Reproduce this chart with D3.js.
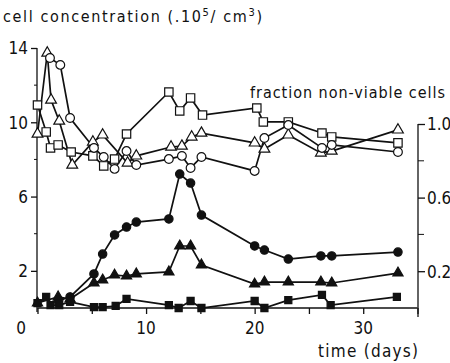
<!DOCTYPE html>
<html>
<head>
<meta charset="utf-8">
<script src="https://cdnjs.cloudflare.com/ajax/libs/d3/7.8.5/d3.min.js"></script>
<style>
  body { margin: 0; background: #fff; }
  svg text { font-family: "DejaVu Sans Condensed", "DejaVu Sans", sans-serif; fill: #111; }
</style>
</head>
<body>
<svg width="450" height="363"></svg>
<script>
// open symbols: cell concentration (left axis, .10^5/cm3)
let quadrado_aberto = [
  [0, 10.93], [0.8, 9.48], [1.2, 8.62], [1.9, 8.78], [3.1, 8.40], [5.1, 8.19], [6.1, 7.65],
  [7.1, 8.02], [8.2, 9.37], [12.1, 11.63], [13.1, 10.61], [14.1, 11.31], [15.2, 10.39],
  [20.2, 10.77], [20.8, 10.02], [23.1, 10.02], [26.2, 9.42], [27.1, 9.21], [33.2, 8.89]
];
let triangulo_aberto = [
  [0, 9.37], [0.9, 13.73], [1.25, 11.2], [2.0, 10.07], [3.2, 7.7], [5.1, 8.94], [6.0, 9.32],
  [8.3, 7.81], [9.1, 8.19], [12.3, 8.67], [13.3, 8.72], [14.2, 9.21], [15.1, 9.42],
  [20.0, 8.89], [20.9, 8.56], [23.1, 9.32], [26.1, 8.35], [27.1, 8.45], [33.2, 9.59]
];
let circulo_aberto = [
  [1.15, 13.46], [2.1, 13.09], [3.0, 10.23], [5.2, 8.62], [6.1, 8.13], [7.1, 7.49], [8.2, 8.45],
  [9.1, 7.70], [12.1, 8.02], [13.3, 8.19], [14.1, 7.54], [15.1, 8.13], [20.0, 7.38],
  [20.9, 9.15], [23.1, 9.85], [26.2, 8.62], [27.1, 8.78], [33.2, 8.40]
];

// filled symbols: fraction non-viable cells (right axis)
let circulo_cheio = [
  [1.9, 0.04], [3.0, 0.06], [5.2, 0.185], [6.0, 0.293], [7.1, 0.397], [8.2, 0.44], [9.1, 0.467],
  [12.1, 0.484], [13.1, 0.728], [14.1, 0.679], [15.1, 0.505], [20.0, 0.337], [20.9, 0.315],
  [23.1, 0.266], [26.1, 0.283], [27.1, 0.283], [33.2, 0.304]
];
let triangulo_cheio = [
  [0, 0.027], [1.9, 0.06], [3.0, 0.049], [5.2, 0.136], [6.0, 0.152], [7.1, 0.179], [8.2, 0.174],
  [9.1, 0.185], [12.1, 0.196], [13.1, 0.337], [14.1, 0.337], [15.1, 0.234], [20.0, 0.13],
  [20.9, 0.141], [23.1, 0.141], [26.1, 0.141], [27.1, 0.136], [33.2, 0.19]
];
let quadrado_cheio = [
  [0, 0.027], [0.8, 0.06], [1.2, 0.016], [2.0, 0.016], [3.0, 0.033], [5.2, 0.005], [6.0, 0.005],
  [7.2, 0.011], [8.2, 0.049], [12.1, 0.016], [13.0, 0.0], [14.1, 0.038], [15.1, 0.0],
  [20.0, 0.038], [20.9, 0.0], [23.1, 0.043], [26.2, 0.071], [27.0, 0.016], [33.1, 0.06]
];

let ticks_x = [0, 10, 20, 30];
let ticks_x_menores = [5, 15, 25, 35];
let ticks_esq = [2, 6, 10, 14];
let ticks_esq_menores = [4, 8, 12];
let ticks_dir = [0.2, 0.6, 1.0];
let ticks_dir_menores = [0.4, 0.8];

let $svg = d3.select("svg");

let x = d3.scaleLinear().domain([0, 35]).range([37.5, 417.5]);
let y_esq = d3.scaleLinear().domain([0, 14]).range([308, 48]);
let y_dir = d3.scaleLinear().domain([0, 1]).range([308, 124]);

// axes
let g_x = $svg.append("g").attr("transform", "translate(0,308)");
g_x.call(d3.axisBottom(x).tickValues(ticks_x.concat(ticks_x_menores)).tickSize(6).tickFormat(""));
g_x.select(".domain").attr("d", "M" + x(0) + ",0H" + x(35));
g_x.selectAll(".tick text").remove();
ticks_x.forEach(function(t) {
  $svg.append("text")
    .attr("x", t === 0 ? 21 : x(t))
    .attr("y", 334)
    .attr("text-anchor", "middle")
    .attr("font-size", 17)
    .text(t);
});

let g_esq = $svg.append("g").attr("transform", "translate(37,0)");
g_esq.call(d3.axisLeft(y_esq).tickValues(ticks_esq).tickSize(6).tickFormat(d3.format("d")));
g_esq.select(".domain").attr("d", "M0," + y_esq(14) + "V" + 312);
g_esq.selectAll(".tick text").attr("font-size", 17).attr("x", -9).attr("dy", "0.35em");
g_esq.append("g").selectAll("line").data(ticks_esq_menores).join("line")
  .attr("x1", -3).attr("x2", 0)
  .attr("y1", d => y_esq(d)).attr("y2", d => y_esq(d))
  .attr("stroke", "#111");

let g_dir = $svg.append("g").attr("transform", "translate(418,0)");
g_dir.call(d3.axisRight(y_dir).tickValues(ticks_dir).tickSize(7).tickFormat(d3.format(".1f")));
g_dir.select(".domain").attr("d", "M0," + y_dir(1) + "V" + 317);
g_dir.selectAll(".tick text").attr("font-size", 17).attr("x", 9).attr("dy", "0.35em");
g_dir.append("g").selectAll("line").data(ticks_dir_menores).join("line")
  .attr("x1", 0).attr("x2", 6)
  .attr("y1", d => y_dir(d)).attr("y2", d => y_dir(d))
  .attr("stroke", "#111");

$svg.selectAll(".domain, .tick line").attr("stroke", "#111").attr("stroke-width", 1.3);

// labels
let titulo = $svg.append("text").attr("x", 3).attr("y", 22).attr("font-size", 16)
  .attr("textLength", 259).attr("lengthAdjust", "spacing");
titulo.append("tspan").text("cell concentration (.10");
titulo.append("tspan").attr("font-size", 11).attr("dy", -6).text("5");
titulo.append("tspan").attr("dy", 6).text("/ cm");
titulo.append("tspan").attr("font-size", 11).attr("dy", -6).text("3");
titulo.append("tspan").attr("dy", 6).text(")");

$svg.append("text").attr("x", 250).attr("y", 98).attr("font-size", 16)
  .attr("textLength", 195).attr("lengthAdjust", "spacing")
  .text("fraction non-viable cells");
$svg.append("text").attr("x", 318).attr("y", 357).attr("font-size", 17)
  .attr("textLength", 100).attr("lengthAdjust", "spacing")
  .text("time (days)");

// series
let linha = (esc) => d3.line().x(d => x(d[0])).y(d => esc(d[1]));

let series = [
  { dados: quadrado_aberto, esc: y_esq, simbolo: d3.symbolSquare, tam: 70, cheio: false },
  { dados: triangulo_aberto, esc: y_esq, simbolo: d3.symbolTriangle, tam: 50, cheio: false },
  { dados: circulo_aberto, esc: y_esq, simbolo: d3.symbolCircle, tam: 60, cheio: false },
  { dados: circulo_cheio, esc: y_dir, simbolo: d3.symbolCircle, tam: 55, cheio: true },
  { dados: triangulo_cheio, esc: y_dir, simbolo: d3.symbolTriangle, tam: 45, cheio: true },
  { dados: quadrado_cheio, esc: y_dir, simbolo: d3.symbolSquare, tam: 50, cheio: true }
];

series.forEach(function(s) {
  $svg.append("path")
    .attr("d", linha(s.esc)(s.dados))
    .attr("fill", "none")
    .attr("stroke", "#111")
    .attr("stroke-width", 1.7);
});

series.forEach(function(s) {
  $svg.append("g").selectAll("path").data(s.dados).join("path")
    .attr("transform", d => "translate(" + x(d[0]) + "," + s.esc(d[1]) + ")")
    .attr("d", d3.symbol().type(s.simbolo).size(s.tam))
    .attr("fill", s.cheio ? "#111" : "#fff")
    .attr("stroke", "#111")
    .attr("stroke-width", 1.2);
});
</script>
</body>
</html>
